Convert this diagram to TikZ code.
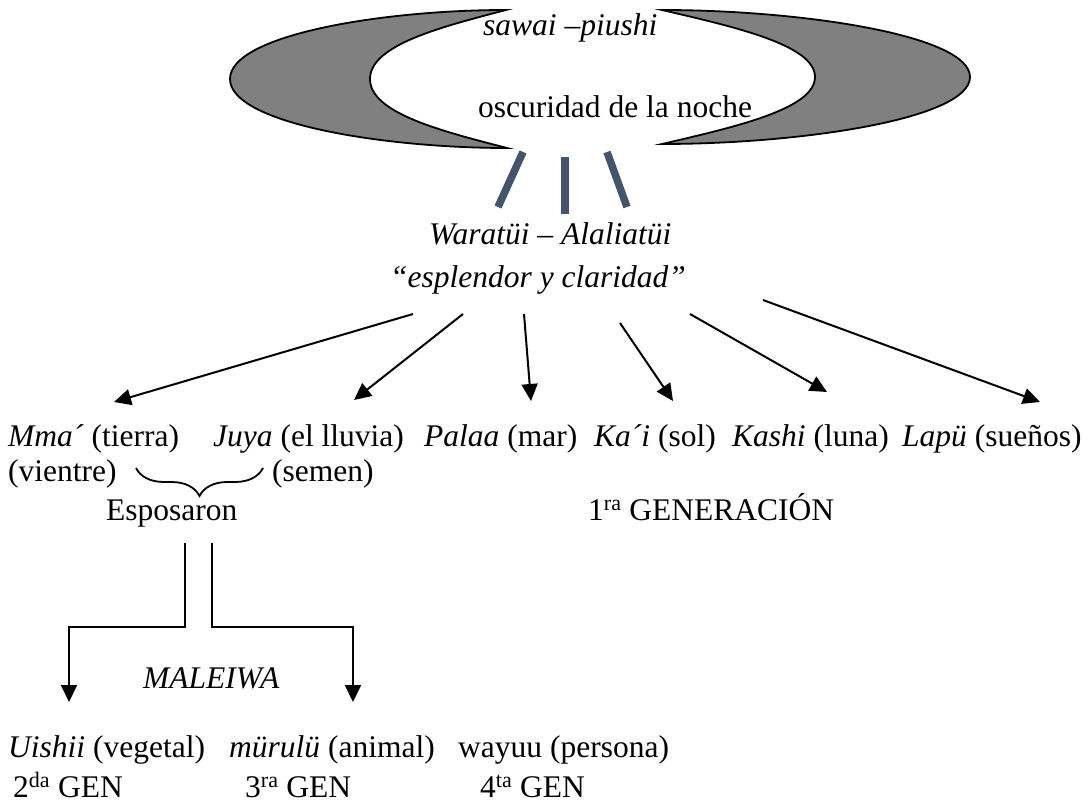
\documentclass[tikz,border=0pt]{standalone}
\usepackage{fontspec}
\setmainfont{Liberation Serif}
\usetikzlibrary{arrows.meta,decorations.pathreplacing}
\definecolor{barcol}{HTML}{44546A}
\definecolor{moongray}{HTML}{808080}
\begin{document}
\begin{tikzpicture}[x=1pt,y=-1pt,
  txt/.style={anchor=base west, inner sep=0pt, font=\fontsize{31.5}{38}\selectfont},
  arr/.style={line width=2pt, -{Triangle[length=17pt,width=16pt]}},
  conn/.style={line width=2pt},
  bar/.style={line width=7.5pt, draw=barcol},
  moon/.style={fill=moongray, draw=black, line width=1.8pt},
  bracestyle/.style={line width=1.8pt, decorate, decoration={brace, amplitude=28pt}}]
\useasboundingbox (0,0) rectangle (1088,805);
% crescents (sawai - piushi)
\path[moon] (506,10) .. controls (382,10) and (230,35) .. (230,79)
  .. controls (230,123) and (382,148) .. (507,148)
  .. controls (441,131) and (370,113) .. (370,79)
  .. controls (370,45) and (441,27) .. (506,10) -- cycle;
\path[moon] (662,10) .. controls (800,10) and (970,35) .. (970,77)
  .. controls (970,119) and (800,144) .. (662,144)
  .. controls (735,127) and (815,109) .. (815,77)
  .. controls (815,45) and (735,27) .. (662,10) -- cycle;
\node[txt] (sawai) at (483,36) {\itshape sawai –piushi};
\node[txt] (oscur) at (478,118) {oscuridad de la noche};
% bars
\coordinate (b1t) at (523,152); \coordinate (b1b) at (498,207);
\coordinate (b2t) at (565,157); \coordinate (b2b) at (565,214);
\coordinate (b3t) at (607,152); \coordinate (b3b) at (627,207);
\draw[bar] (b1t) -- (b1b);
\draw[bar] (b2t) -- (b2b);
\draw[bar] (b3t) -- (b3b);
\node[txt] (warat) at (429,245) {\itshape Waratüi – Alaliatüi};
\node[txt] (espl) at (390,288) {\itshape “esplendor y claridad”};
% first generation row
\node[txt] (mma) at (8,446) {\textit{Mma´} (tierra)};
\node[txt] (juya) at (213,446) {\textit{Juya} (el lluvia)};
\node[txt] (palaa) at (424,446) {\textit{Palaa} (mar)};
\node[txt] (kai) at (594,446) {\textit{Ka´i} (sol)};
\node[txt] (kashi) at (732,446) {\textit{Kashi} (luna)};
\node[txt] (lapu) at (902,446) {\textit{Lapü} (sueños)};
\node[txt] (vientre) at (8,481) {(vientre)};
\node[txt] (semen) at (272,481) {(semen)};
\node[txt] (espos) at (106,520) {Esposaron};
\node[txt] (gen1) at (588,520) {1\textsuperscript{ra} GENERACIÓN};
% arrows from Waratüi
\coordinate (s1) at (413,314); \coordinate (e1) at (114,402);
\coordinate (s2) at (463,314); \coordinate (e2) at (354,400);
\coordinate (s3) at (524,314); \coordinate (e3) at (531,401);
\coordinate (s4) at (620,323); \coordinate (e4) at (673,401);
\coordinate (s5) at (690,314); \coordinate (e5) at (827,392);
\coordinate (s6) at (763,300); \coordinate (e6) at (1040,402);
\draw[arr] (s1) -- (e1);
\draw[arr] (s2) -- (e2);
\draw[arr] (s3) -- (e3);
\draw[arr] (s4) -- (e4);
\draw[arr] (s5) -- (e5);
\draw[arr] (s6) -- (e6);
% brace
\coordinate (br1) at (263,468); \coordinate (br2) at (136,468);
\draw[bracestyle] (br1) -- (br2);
% Maleiwa connectors
\coordinate (v1) at (185,543); \coordinate (v2) at (212,543);
\coordinate (h) at (0,627);
\coordinate (t1) at (69,702); \coordinate (t2) at (353,702);
\draw[conn, arr] (v1) -- (v1 |- h) -- (t1 |- h) -- (t1);
\draw[conn, arr] (v2) -- (v2 |- h) -- (t2 |- h) -- (t2);
\node[txt] (maleiwa) at (143,688) {\itshape MALEIWA};
% later generations
\node[txt] (uishii) at (8,757) {\textit{Uishii} (vegetal)};
\node[txt] (murulu) at (229,757) {\textit{mürulü} (animal)};
\node[txt] (wayuu) at (458,757) {wayuu (persona)};
\node[txt] (gen2) at (13,797) {2\textsuperscript{da} GEN};
\node[txt] (gen3) at (245,797) {3\textsuperscript{ra} GEN};
\node[txt] (gen4) at (480,797) {4\textsuperscript{ta} GEN};
\end{tikzpicture}
\end{document}
